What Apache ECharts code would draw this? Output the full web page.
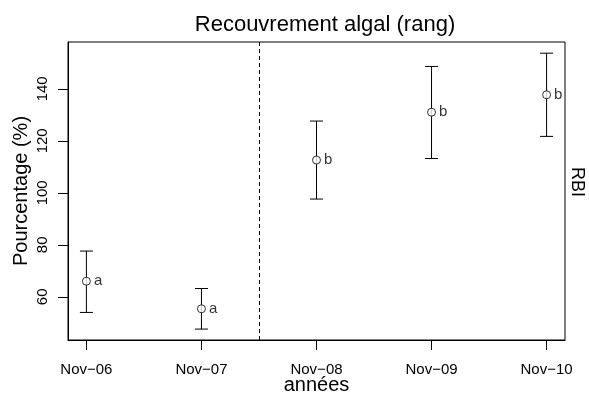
<!DOCTYPE html>
<html>
<head>
<meta charset="utf-8">
<script src="https://cdn.jsdelivr.net/npm/echarts@6/dist/echarts.min.js"></script>
<style>
  html, body { margin: 0; padding: 0; background: #fff; }
  #chart { width: 589px; height: 395px; }
</style>
</head>
<body>
<div id="chart"></div>
<script>
// data
var categories = ['Nov\u221206', 'Nov\u221207', 'Nov\u221208', 'Nov\u221209', 'Nov\u221210'];
var xPos = [1, 2, 3, 4, 5];
var means = [66.0, 55.4, 112.6, 131.0, 137.7];
var upper = [77.6, 63.2, 127.6, 148.6, 153.7];
var lower = [54.0, 47.6, 97.6, 113.2, 121.7];
var letters = ['a', 'a', 'b', 'b', 'b'];
var yTicks = [60, 80, 100, 120, 140];
var splitAt = 2.5;

var font = 'Liberation Sans, Arial, Helvetica, sans-serif';

var pointData = [];
var barData = [];
for (var i = 0; i < xPos.length; i++) {
    pointData.push({ value: [xPos[i], means[i]], letter: letters[i] });
    barData.push([xPos[i], lower[i], upper[i]]);
}

var myChart = echarts.init(document.getElementById('chart'), null, { renderer: 'canvas' });

option = {
    animation: false,
    backgroundColor: '#fff',
    textStyle: { fontFamily: font, color: '#000' },
    title: {
        text: 'Recouvrement algal (rang)',
        left: 320,
        top: 9,
        textAlign: 'center',
        textStyle: { fontFamily: font, fontSize: 22, fontWeight: 'normal', color: '#000' }
    },
    grid: {
        left: 68, top: 42, right: 24, bottom: 55,
        containLabel: false,
        outerBoundsMode: 'none',
        show: true, borderColor: '#000', borderWidth: 1, backgroundColor: 'transparent'
    },
    xAxis: {
        type: 'value',
        min: 0.84, max: 5.16,
        name: 'années',
        nameLocation: 'middle',
        nameGap: 35,
        nameMoveOverlap: false,
        nameTextStyle: { fontFamily: font, fontSize: 20, color: '#000' },
        axisLine: { show: true, lineStyle: { color: '#000', width: 1 } },
        axisTick: { show: true, inside: false, length: 10, customValues: xPos, lineStyle: { color: '#000' } },
        axisLabel: {
            customValues: xPos, margin: 22, fontSize: 15, color: '#000', fontFamily: font,
            formatter: function (v) { return categories[Math.round(v) - 1]; }
        },
        splitLine: { show: false }
    },
    yAxis: {
        type: 'value',
        min: 43.4, max: 158.0,
        name: 'Pourcentage (%)',
        nameLocation: 'middle',
        nameGap: 37,
        nameMoveOverlap: false,
        nameTextStyle: { fontFamily: font, fontSize: 20, color: '#000' },
        axisLine: { show: true, lineStyle: { color: '#000', width: 1 } },
        axisTick: { show: true, inside: false, length: 10, customValues: yTicks, lineStyle: { color: '#000' } },
        axisLabel: { customValues: yTicks, rotate: 90, margin: 18, fontSize: 15, color: '#000', fontFamily: font },
        splitLine: { show: false }
    },
    graphic: [{
        type: 'text',
        x: 577, y: 182,
        rotation: -Math.PI / 2,
        style: { text: 'RBI', fontSize: 18, fontFamily: font, fill: '#000', align: 'center', verticalAlign: 'middle' }
    }],
    series: [
        {
            type: 'custom',
            data: barData,
            renderItem: function (params, api) {
                var x = api.value(0);
                var lo = api.coord([x, api.value(1)]);
                var hi = api.coord([x, api.value(2)]);
                var w = 6.5;
                var st = { stroke: '#000', lineWidth: 1 };
                return {
                    type: 'group',
                    children: [
                        { type: 'line', shape: { x1: lo[0], y1: lo[1], x2: hi[0], y2: hi[1] }, style: st },
                        { type: 'line', shape: { x1: hi[0] - w, y1: hi[1], x2: hi[0] + w, y2: hi[1] }, style: st },
                        { type: 'line', shape: { x1: lo[0] - w, y1: lo[1], x2: lo[0] + w, y2: lo[1] }, style: st }
                    ]
                };
            },
            markLine: {
                silent: true,
                symbol: 'none',
                label: { show: false },
                lineStyle: { color: '#000', width: 1, type: [4, 3] },
                data: [{ xAxis: splitAt }]
            },
            z: 2
        },
        {
            type: 'scatter',
            data: pointData,
            symbol: 'circle',
            symbolSize: 8,
            itemStyle: { color: '#fff', borderColor: '#000', borderWidth: 1 },
            label: {
                show: true, position: 'right', distance: 3,
                fontSize: 15, color: '#000', fontFamily: font,
                formatter: function (p) { return p.data.letter; }
            },
            z: 3
        }
    ]
};
myChart.setOption(option);
</script>
</body>
</html>
